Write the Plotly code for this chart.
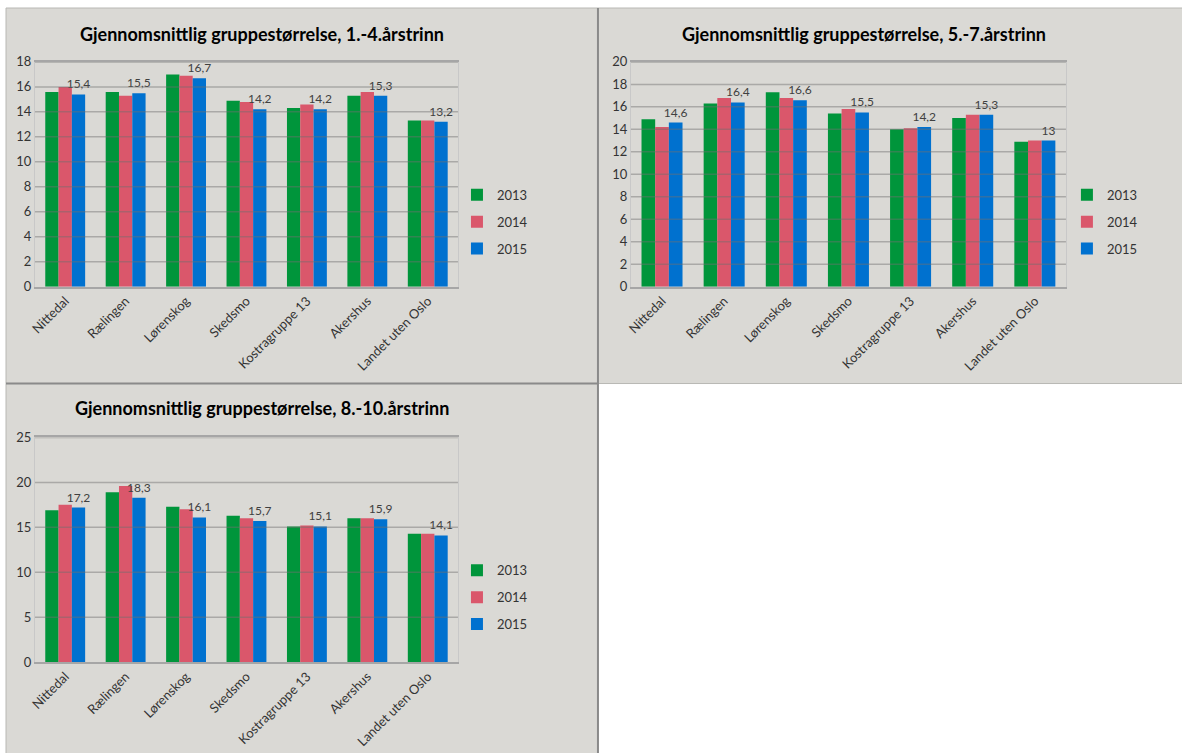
import plotly.graph_objects as go

W, H = 1182, 753

categories = ["Nittedal", "Rælingen", "Lørenskog", "Skedsmo", "Kostragruppe 13", "Akershus", "Landet uten Oslo"]
years = ["2013", "2014", "2015"]

p1_2013 = [15.6, 15.6, 17.0, 14.9, 14.3, 15.3, 13.3]
p1_2014 = [16.0, 15.3, 16.9, 14.8, 14.6, 15.6, 13.3]
p1_2015 = [15.4, 15.5, 16.7, 14.2, 14.2, 15.3, 13.2]

p2_2013 = [14.9, 16.3, 17.3, 15.4, 14.0, 15.0, 12.9]
p2_2014 = [14.2, 16.8, 16.8, 15.8, 14.1, 15.3, 13.0]
p2_2015 = [14.6, 16.4, 16.6, 15.5, 14.2, 15.3, 13.0]

p3_2013 = [16.9, 18.9, 17.3, 16.3, 15.1, 16.0, 14.3]
p3_2014 = [17.5, 19.6, 17.0, 16.0, 15.2, 16.0, 14.3]
p3_2015 = [17.2, 18.3, 16.1, 15.7, 15.1, 15.9, 14.1]

titles = ["Gjennomsnittlig gruppestørrelse, 1.-4.årstrinn",
          "Gjennomsnittlig gruppestørrelse, 5.-7.årstrinn",
          "Gjennomsnittlig gruppestørrelse, 8.-10.årstrinn"]
y_ranges = [(0, 18), (0, 20), (0, 25)]
y_dticks = [2, 2, 5]

colors = ["#00953B", "#DA576B", "#0071CF"]
panel_bg = "#DAD9D5"
font_fam = "Lato, 'Open Sans', sans-serif"

# map target screen pixels to paper fractions (compensates page offset/scale)
SX, BX, SY, BY = 0.995, 7.0, 0.98, 7.0


def fx(px):
    return ((px - BX) / SX) / W


def fy(py):
    return 1 - ((py - BY) / SY) / H


# panel layout in target pixels: plot area (x0, x1, ytop, ybottom), legend position, title pos
panels = [
    dict(px=(36, 459), py=(61, 286), leg=(458, 191), title=(263, 33)),
    dict(px=(632, 1067), py=(61, 286), leg=(1068, 191), title=(865, 33)),
    dict(px=(36, 459), py=(437, 662), leg=(458, 567), title=(263, 408)),
]
data_sets = [
    [p1_2013, p1_2014, p1_2015],
    [p2_2013, p2_2014, p2_2015],
    [p3_2013, p3_2014, p3_2015],
]

fig = go.Figure()
shapes = []
annotations = []

# panel backgrounds
for (x0, y0, x1, y1) in [(7, 7, 599, 383), (599, 7, 1200, 383), (7, 383, 599, 770)]:
    shapes.append(dict(type="rect", xref="paper", yref="paper", layer="below",
                       x0=fx(x0), x1=fx(x1), y0=fy(y1), y1=fy(y0),
                       fillcolor=panel_bg, line=dict(color="#B8B8B4", width=1)))
# dark divider lines
shapes.append(dict(type="line", xref="paper", yref="paper", layer="below",
                   x0=fx(599), x1=fx(599), y0=fy(770), y1=fy(7), line=dict(color="#8A8A8A", width=2)))
shapes.append(dict(type="line", xref="paper", yref="paper", layer="below",
                   x0=fx(7), x1=fx(599), y0=fy(383), y1=fy(383), line=dict(color="#8A8A8A", width=2)))

layout_axes = {}
for i, (p, ds) in enumerate(zip(panels, data_sets)):
    n = i + 1
    xa = "x" if n == 1 else f"x{n}"
    ya = "y" if n == 1 else f"y{n}"
    leg = "legend" if n == 1 else f"legend{n}"
    for j, (yr, vals) in enumerate(zip(years, ds)):
        show_text = (j == 2)
        fig.add_trace(go.Bar(
            x=categories, y=vals, name=yr, xaxis=xa, yaxis=ya, legend=leg,
            marker=dict(color=colors[j], line=dict(width=0)),
            text=[f"{v:g}".replace(".", ",") for v in vals] if show_text else None,
            textposition="outside" if show_text else None,
            textfont=dict(size=12, color="#404040", family=font_fam),
            constraintext="none", textangle=0,
            cliponaxis=False, legendgroup=f"{n}-{yr}",
        ))
    xkey = "xaxis" if n == 1 else f"xaxis{n}"
    ykey = "yaxis" if n == 1 else f"yaxis{n}"
    layout_axes[xkey] = dict(
        domain=[fx(p["px"][0]), fx(p["px"][1])], anchor=ya,
        tickangle=-45, tickfont=dict(size=13, color="#333333", family=font_fam),
        showline=True, linecolor="#A6A6A6", linewidth=1.5, mirror=True,
        ticks="", showgrid=False, fixedrange=True,
    )
    layout_axes[ykey] = dict(
        domain=[fy(p["py"][1]), fy(p["py"][0])], anchor=xa,
        range=list(y_ranges[i]), dtick=y_dticks[i], tick0=0,
        tickfont=dict(size=13, color="#333333", family=font_fam),
        showgrid=False, showline=True, linecolor="#C8C8C8", linewidth=1, mirror=True,
        ticks="", zeroline=False, fixedrange=True,
    )
    # gridlines drawn above bars (as in the reference)
    t = y_ranges[i][0] + y_dticks[i]
    while t <= y_ranges[i][1]:
        shapes.append(dict(type="line", xref=f"{xa} domain", yref=ya, layer="above",
                           x0=0, x1=1, y0=t, y1=t,
                           line=dict(color="rgba(110,110,110,0.45)", width=1.5)))
        t += y_dticks[i]
    layout_axes[leg] = dict(
        x=fx(p["leg"][0]), y=fy(p["leg"][1] - 12), xanchor="left", yanchor="top",
        bgcolor="rgba(0,0,0,0)", font=dict(size=13, color="#333333", family=font_fam),
        tracegroupgap=7, itemwidth=30,
    )
    annotations.append(dict(
        text=f"<b>{titles[i]}</b>", xref="paper", yref="paper",
        x=fx(p["title"][0]), y=fy(p["title"][1]), xanchor="center", yanchor="middle",
        showarrow=False, font=dict(size=18, color="#000000", family=font_fam),
    ))

fig.update_layout(
    width=W, height=H, margin=dict(l=0, r=0, t=0, b=0),
    paper_bgcolor="white", plot_bgcolor="white",
    barmode="group", bargap=0.34, bargroupgap=0,
    shapes=shapes, annotations=annotations,
    showlegend=True, hovermode=False,
    **layout_axes,
)

post = (
    "var s=document.createElement('style');"
    "s.textContent='html,body{margin:0!important;padding:0!important;overflow:hidden!important;}';"
    "document.head.appendChild(s);"
)

fig.write_html("out.html", config={"displayModeBar": False}, post_script=post)
